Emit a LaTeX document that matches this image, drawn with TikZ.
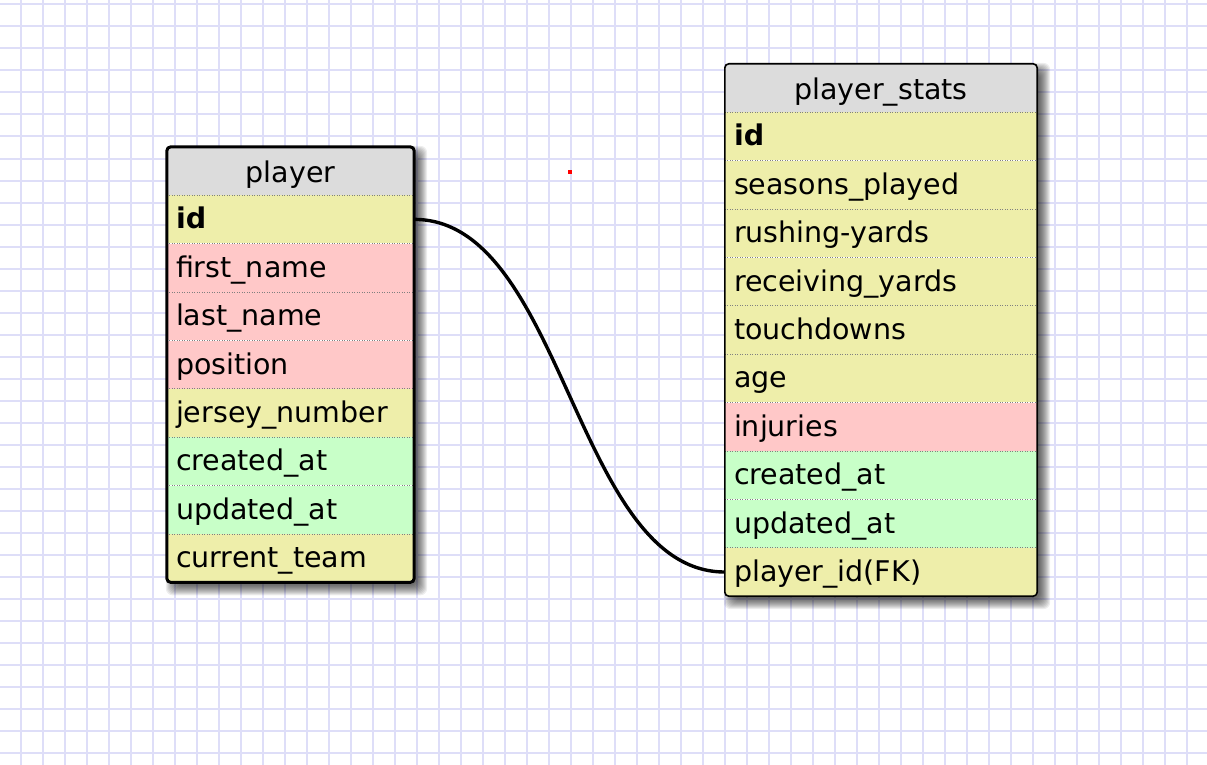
\documentclass[tikz,border=0pt]{standalone}
\usepackage{fontspec}
\setmainfont{DejaVu Sans}
\usetikzlibrary{positioning,backgrounds}
\definecolor{headgray}{RGB}{220,220,220}
\definecolor{numyellow}{RGB}{238,238,170}
\definecolor{strpink}{RGB}{255,200,200}
\definecolor{dategreen}{RGB}{200,255,200}
\definecolor{gridblue}{RGB}{222,222,248}
\tikzset{
    %Define style for table fields
    field/.style={
           rectangle,
           inner xsep=9pt, inner ysep=0pt,
           minimum height=48pt,
           text height=23pt, text depth=4pt,
           align=left,
           font=\fontsize{28.5}{34}\selectfont},
    %Define style for table headers
    thead/.style={
           field,
           fill=headgray,
           align=center,
           text depth=0pt},
    num/.style={field, fill=numyellow},
    str/.style={field, fill=strpink},
    date/.style={field, fill=dategreen},
    % Define line styles
    sep/.style={
           gray, line width=1pt,
           dash pattern=on 1pt off 1.5pt},
    frame/.style={
           draw=black,
           rounded corners=4pt},
    tshadow/.style={
           fill=black,
           fill opacity=0.07,
           rounded corners=7pt},
    link/.style={
           line width=3.4pt,
           black},
    gridline/.style={
           gridblue, line width=2pt}
}
\begin{document}
\begin{tikzpicture}[x=1pt, y=-1pt, node distance=0pt]
\useasboundingbox (0,0) rectangle (1207,765);

% table player
\begin{scope}[every node/.append style={text width=229pt}]
\node[thead] (player) at (290.5,171) {player};
\node[num, below=of player] (pid) {\textbf{id}};
\node[str, below=of pid] (fname) {first\_name};
\node[str, below=of fname] (lname) {last\_name};
\node[str, below=of lname] (pos) {position};
\node[num, below=of pos] (jersey) {jersey\_number};
\node[date, below=of jersey] (pcreated) {created\_at};
\node[date, below=of pcreated] (pupdated) {updated\_at};
\node[num, below=of pupdated] (team) {current\_team};
\end{scope}

% table player_stats
\begin{scope}[every node/.append style={text width=294pt, minimum height=47.7pt}]
\node[thead] (stats) at (881,88) {player\_stats};
\node[num, below=of stats] (sid) {\textbf{id}};
\node[num, below=of sid] (seasons) {seasons\_played};
\node[num, below=of seasons] (rushing) {rushing-yards};
\node[num, below=of rushing] (receiving) {receiving\_yards};
\node[num, below=of receiving] (touchdowns) {touchdowns};
\node[num, below=of touchdowns] (age) {age};
\node[str, below=of age] (injuries) {injuries};
\node[date, below=of injuries] (screated) {created\_at};
\node[date, below=of screated] (supdated) {updated\_at};
\node[num, below=of supdated] (playerid) {player\_id(FK)};
\end{scope}

\begin{scope}[on background layer]
\fill[white] (0,0) rectangle (1207,765);
\foreach \x in {21,43,...,1207}
  \draw[gridline] (\x,0) -- (\x,765);
\foreach \y in {4.5,26.5,...,765}
  \draw[gridline] (0,\y) -- (1207,\y);
% soft shadows
\foreach \i in {-3,...,7} {
  \fill[tshadow] ([shift={(6-\i,6-\i)}]player.north west) rectangle ([shift={(6+\i,6+\i)}]team.south east);
  \fill[tshadow] ([shift={(6-\i,6-\i)}]stats.north west) rectangle ([shift={(6+\i,6+\i)}]playerid.south east);
}
\fill[white] (player.north west) rectangle (team.south east);
\fill[white] (stats.north west) rectangle (playerid.south east);
\end{scope}

\foreach \r in {pid,fname,lname,pos,jersey,pcreated,pupdated,team,sid,seasons,rushing,receiving,touchdowns,age,injuries,screated,supdated,playerid}
  \draw[sep] (\r.north west) -- (\r.north east);

\draw[link] (pid.east) .. controls +(150,0) and +(-150,0) .. (playerid.west);

\draw[frame, line width=3pt] (player.north west) rectangle (team.south east);
\draw[frame, line width=1.6pt] (stats.north west) rectangle (playerid.south east);

\fill[red] (567.5,170) rectangle (571.5,173.5);
\end{tikzpicture}
\end{document}
